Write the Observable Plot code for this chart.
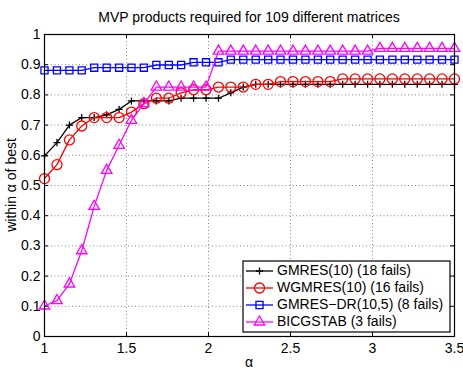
<!DOCTYPE html>
<html><head><meta charset="utf-8">
<script src="https://cdn.jsdelivr.net/npm/d3@7"></script>
<script src="https://cdn.jsdelivr.net/npm/@observablehq/plot@0.6"></script>
<style>
body{margin:0;background:#fff;}
#chart{position:relative;width:463px;height:370px;}
svg{font-family:"Liberation Sans",Arial,Helvetica,sans-serif;}
</style>
</head><body><div id="chart"></div>
<script>
// x values (alpha)
const alpha = [1.000,1.076,1.152,1.227,1.303,1.379,1.455,1.530,1.606,1.682,1.758,1.833,1.909,1.985,2.061,2.136,2.212,2.288,2.364,2.439,2.515,2.591,2.667,2.742,2.818,2.894,2.970,3.045,3.121,3.197,3.273,3.348,3.424,3.500];
const gmres = [0.598,0.642,0.700,0.725,0.725,0.734,0.752,0.780,0.780,0.780,0.780,0.789,0.789,0.789,0.789,0.807,0.826,0.835,0.835,0.835,0.835,0.835,0.835,0.835,0.835,0.835,0.835,0.835,0.835,0.835,0.835,0.835,0.835,0.835];
const wgmres = [0.523,0.569,0.651,0.697,0.725,0.725,0.725,0.743,0.771,0.789,0.789,0.807,0.817,0.817,0.826,0.826,0.826,0.835,0.835,0.844,0.844,0.844,0.844,0.844,0.853,0.853,0.853,0.853,0.853,0.853,0.853,0.853,0.853,0.853];
const gmresdr = [0.881,0.881,0.881,0.881,0.890,0.890,0.890,0.890,0.890,0.899,0.899,0.899,0.908,0.908,0.908,0.917,0.917,0.917,0.917,0.917,0.917,0.917,0.917,0.917,0.917,0.917,0.917,0.917,0.917,0.917,0.917,0.917,0.917,0.917];
const bicgstab = [0.101,0.119,0.174,0.284,0.431,0.550,0.633,0.716,0.771,0.826,0.826,0.826,0.826,0.826,0.945,0.945,0.945,0.945,0.945,0.945,0.945,0.945,0.945,0.945,0.945,0.945,0.945,0.954,0.954,0.954,0.954,0.954,0.954,0.954];

const seriesNames = ["GMRES(10) (18 fails)","WGMRES(10) (16 fails)","GMRES\u2212DR(10,5) (8 fails)","BICGSTAB (3 fails)"];
const seriesColors = ["#000000","#ff0000","#0000ff","#ff00ff"];
const seriesSymbols = ["plus","circle","square2","triangle2"];
const seriesR = [2.4,5,4.5,5];
const seriesValues = [gmres, wgmres, gmresdr, bicgstab];

const xTicks = [1,1.5,2,2.5,3,3.5];
const yTicks = [0,0.1,0.2,0.3,0.4,0.5,0.6,0.7,0.8,0.9,1];

const title = "MVP products required for 109 different matrices";
const xLabel = "\u03b1";
const yLabel = "within \u03b1 of best";

const rows = [];
seriesValues.forEach((vals, s) => vals.forEach((v, i) => rows.push({s, x: alpha[i], y: v})));

const W = 463, H = 370, mL = 44, mR = 9, mT = 34, mB = 34;
const pw = W - mL - mR, ph = H - mT - mB;
const tick = 4;

const marks = [
  Plot.ruleX(xTicks.slice(1, -1), {x: d => d, stroke: "#888", strokeDasharray: "1,2.5", strokeWidth: 1}),
  Plot.ruleY(yTicks.slice(1, -1), {y: d => d, stroke: "#888", strokeDasharray: "1,2.5", strokeWidth: 1}),
  // inward ticks
  Plot.ruleX(xTicks, {x: d => d, insetTop: ph - tick, stroke: "#000"}),
  Plot.ruleX(xTicks, {x: d => d, insetBottom: ph - tick, stroke: "#000"}),
  Plot.ruleY(yTicks, {y: d => d, insetRight: pw - tick, stroke: "#000"}),
  Plot.ruleY(yTicks, {y: d => d, insetLeft: pw - tick, stroke: "#000"}),
  Plot.axisX(xTicks, {tickSize: 0, tickPadding: 7, fontSize: 14, label: null, tickFormat: d => String(d)}),
  Plot.axisY(yTicks, {tickSize: 0, tickPadding: 4, fontSize: 14, label: null, tickFormat: d => String(d)})
];
seriesValues.forEach((vals, s) => {
  const data = rows.filter(r => r.s === s);
  marks.push(Plot.line(data, {x: "x", y: "y", stroke: seriesColors[s], strokeWidth: 1.3}));
  marks.push(Plot.dot(data, {x: "x", y: "y", stroke: seriesColors[s], fill: "none", symbol: seriesSymbols[s], r: seriesR[s], strokeWidth: 1.3}));
});
marks.push(Plot.frame({stroke: "#000", strokeWidth: 1.2}));

const svg = Plot.plot({
  width: W, height: H,
  marginLeft: mL, marginRight: mR, marginTop: mT, marginBottom: mB,
  x: {domain: [1, 3.5]},
  y: {domain: [0, 1]},
  style: {fontFamily: '"Liberation Sans",Arial,sans-serif', fontSize: "14px", color: "#000", background: "#fff", overflow: "visible"},
  marks
});
document.getElementById("chart").appendChild(svg);

const g = d3.select(svg).append("g").attr("font-family", '"Liberation Sans",Arial,sans-serif').attr("fill", "#000").attr("text-anchor", "start");
g.append("text").attr("x", mL + pw / 2).attr("y", 18).attr("text-anchor", "middle").attr("dominant-baseline", "middle").attr("font-size", 14).text(title);
g.append("text").attr("x", mL + pw / 2).attr("y", 363).attr("text-anchor", "middle").attr("dominant-baseline", "middle").attr("font-size", 14).text(xLabel);
g.append("text").attr("transform", `translate(12,${mT + ph / 2}) rotate(-90)`).attr("text-anchor", "middle").attr("dominant-baseline", "middle").attr("font-size", 14).text(yLabel);

// legend
const lx = 243, ly = 261, lw = 207, lh = 71, rowH = 17;
const lg = g.append("g");
lg.append("rect").attr("x", lx).attr("y", ly).attr("width", lw).attr("height", lh).attr("fill", "#fff").attr("stroke", "#000").attr("stroke-width", 1.2);
const symMap = {plus: d3.symbolPlus, circle: d3.symbolCircle, square2: d3.symbolSquare2, triangle2: d3.symbolTriangle2};
seriesNames.forEach((name, s) => {
  const cy = ly + 10 + s * rowH;
  lg.append("line").attr("x1", lx + 3).attr("x2", lx + 30).attr("y1", cy).attr("y2", cy).attr("stroke", seriesColors[s]).attr("stroke-width", 1.3);
  lg.append("path").attr("d", d3.symbol().type(symMap[seriesSymbols[s]]).size(Math.PI * seriesR[s] * seriesR[s])()).attr("transform", `translate(${lx + 16.5},${cy})`).attr("fill", "none").attr("stroke", seriesColors[s]).attr("stroke-width", 1.3);
  lg.append("text").attr("x", lx + 34).attr("y", cy).attr("text-anchor", "start").attr("dominant-baseline", "middle").attr("font-size", 14).text(name);
});
</script>
</body></html>
